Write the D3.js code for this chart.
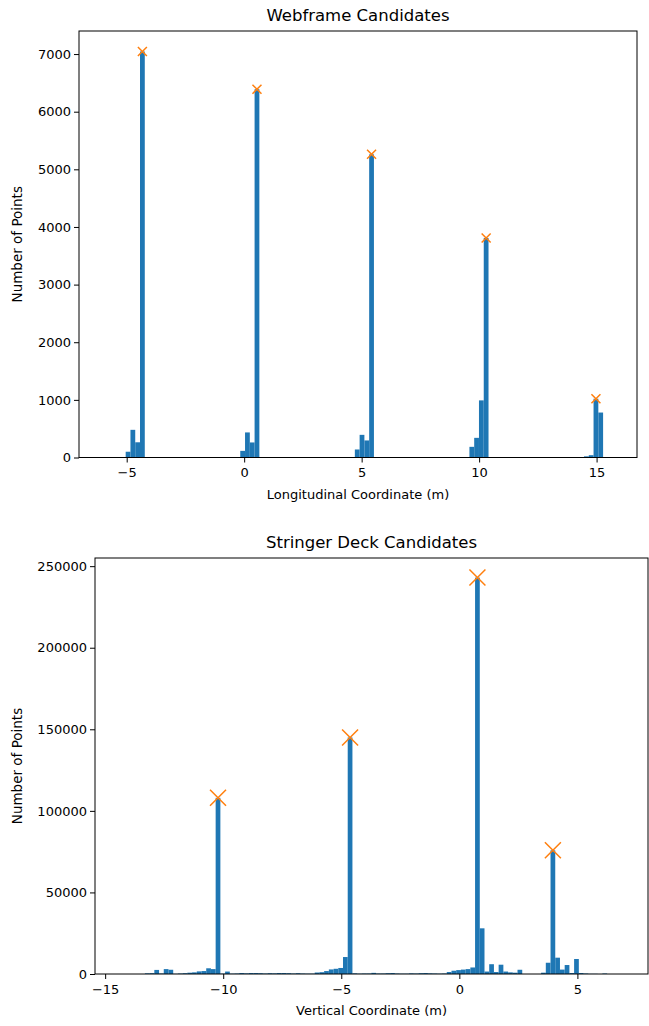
<!DOCTYPE html>
<html>
<head>
<meta charset="utf-8">
<script src="https://cdn.jsdelivr.net/npm/d3@7"></script>
<style>
  body { margin: 0; background: #fff; }
  svg text { font-family: "DejaVu Sans", sans-serif; fill: #000; }
  .axis path, .axis line { stroke: #000; }
</style>
</head>
<body>
<div id="vis"></div>
<script>
// histogram bins
const topBinStart = -5.043
const topBinWidth = 0.2032
const topCounts = [
    100, 480, 264, 7045, 0, 0, 0, 0, 0, 0,
    0, 0, 0, 0, 0, 0, 0, 0, 0, 0,
    0, 0, 0, 0, 115, 435, 261, 6390, 0, 0,
    0, 0, 0, 0, 0, 0, 0, 0, 0, 0,
    0, 0, 0, 0, 0, 0, 0, 0, 139, 393,
    296, 5260, 0, 0, 0, 0, 0, 0, 0, 0,
    0, 0, 0, 0, 0, 0, 0, 0, 0, 0,
    0, 0, 185, 341, 991, 3810, 0, 0, 0, 0,
    0, 0, 0, 0, 0, 0, 0, 0, 0, 0,
    0, 0, 0, 0, 0, 0, 20, 40, 1020, 780
]
const topPeakBins = [3, 27, 51, 75, 98]
const topXTicks = [-5, 0, 5, 10, 15]
const topYTicks = [0, 1000, 2000, 3000, 4000, 5000, 6000, 7000]

const botBinStart = -13.716
const botBinWidth = 0.19975
const botCounts = [
    0, 0, 400, 500, 2500, 300, 3000, 2600, 100, 300,
    500, 800, 1000, 1600, 1800, 3500, 3000, 108000, 200, 1500,
    200, 300, 600, 400, 600, 600, 500, 300, 500, 400,
    600, 600, 500, 300, 500, 300, 200, 200, 900, 1100,
    1800, 2800, 3200, 3700, 10400, 145000, 400, 200, 300, 300,
    700, 300, 300, 500, 600, 300, 200, 200, 400, 300,
    500, 600, 400, 300, 200, 300, 1200, 2000, 2400, 2700,
    3000, 4000, 243000, 28000, 1500, 6000, 1200, 5700, 1500, 1000,
    800, 2600, 0, 0, 0, 0, 800, 6900, 75800, 10000,
    2700, 5500, 600, 9200, 600, 300, 100, 100, 0, 300
]
const botPeakBins = [17, 45, 72, 88]
const botXTicks = [-15, -10, -5, 0, 5]
const botYTicks = [0, 50000, 100000, 150000, 200000, 250000]

const barColor = '#1f77b4'
const peakColor = '#ff7f0e'

const svg = d3.select('#vis')
    .append('svg')
    .attr('width', 649)
    .attr('height', 1026)

function drawPanel(cfg) {
    const g = svg.append('g')
    const x = d3.scaleLinear().domain(cfg.xDomain).range([cfg.left, cfg.right])
    const y = d3.scaleLinear().domain(cfg.yDomain).range([cfg.bottom, cfg.top])

    const bins = cfg.counts.map((c, i) => ({
        x0: cfg.binStart + i * cfg.binWidth,
        x1: cfg.binStart + (i + 1) * cfg.binWidth,
        count: c
    }))

    g.selectAll('.bar')
        .data(bins.filter(d => d.count > 0))
        .join('rect')
        .attr('class', 'bar')
        .attr('x', d => x(d.x0))
        .attr('width', d => x(d.x1) - x(d.x0))
        .attr('y', d => y(d.count))
        .attr('height', d => y(0) - y(d.count))
        .attr('fill', barColor)

    // orange x on the peaks
    const s = cfg.markerSize / 2
    g.selectAll('.peak')
        .data(cfg.peaks.map(i => bins[i]))
        .join('path')
        .attr('class', 'peak')
        .attr('d', d => {
            const cx = x((d.x0 + d.x1) / 2), cy = y(d.count)
            return `M${cx - s},${cy - s}L${cx + s},${cy + s}M${cx - s},${cy + s}L${cx + s},${cy - s}`
        })
        .attr('stroke', peakColor)
        .attr('stroke-width', 1.5)
        .attr('fill', 'none')

    const fmt = d3.format('d')
    g.append('g')
        .attr('class', 'axis')
        .attr('transform', `translate(0,${cfg.bottom})`)
        .call(d3.axisBottom(x).tickValues(cfg.xTicks).tickFormat(fmt).tickSize(5).tickSizeOuter(0))
        .call(a => a.select('.domain').remove())
        .selectAll('text').attr('font-size', 13).attr('dy', '0.9em')

    g.append('g')
        .attr('class', 'axis')
        .attr('transform', `translate(${cfg.left},0)`)
        .call(d3.axisLeft(y).tickValues(cfg.yTicks).tickFormat(fmt).tickSize(5).tickSizeOuter(0))
        .call(a => a.select('.domain').remove())
        .selectAll('text').attr('font-size', 13)

    // frame
    g.append('rect')
        .attr('x', cfg.left)
        .attr('y', cfg.top)
        .attr('width', cfg.right - cfg.left)
        .attr('height', cfg.bottom - cfg.top)
        .attr('fill', 'none')
        .attr('stroke', '#000')
        .attr('stroke-width', 1)

    g.append('text')
        .attr('x', (cfg.left + cfg.right) / 2)
        .attr('y', cfg.top - 10)
        .attr('text-anchor', 'middle')
        .attr('font-size', 16.5)
        .text(cfg.title)

    g.append('text')
        .attr('x', (cfg.left + cfg.right) / 2)
        .attr('y', cfg.bottom + 41)
        .attr('text-anchor', 'middle')
        .attr('font-size', 13)
        .text(cfg.xLabel)

    g.append('text')
        .attr('transform', 'rotate(-90)')
        .attr('x', -(cfg.top + cfg.bottom) / 2)
        .attr('y', 22)
        .attr('text-anchor', 'middle')
        .attr('font-size', 13.5)
        .text('Number of Points')
}

drawPanel({
    left: 79, right: 637, top: 31, bottom: 457.5,
    xDomain: [-7.03, 16.72], yDomain: [0, 7400],
    binStart: topBinStart, binWidth: topBinWidth, counts: topCounts,
    peaks: topPeakBins, markerSize: 9,
    xTicks: topXTicks, yTicks: topYTicks,
    title: 'Webframe Candidates', xLabel: 'Longitudinal Coordinate (m)'
})

drawPanel({
    left: 95, right: 648, top: 558, bottom: 974,
    xDomain: [-15.43, 7.99], yDomain: [0, 255000],
    binStart: botBinStart, binWidth: botBinWidth, counts: botCounts,
    peaks: botPeakBins, markerSize: 16,
    xTicks: botXTicks, yTicks: botYTicks,
    title: 'Stringer Deck Candidates', xLabel: 'Vertical Coordinate (m)'
})
</script>
</body>
</html>
